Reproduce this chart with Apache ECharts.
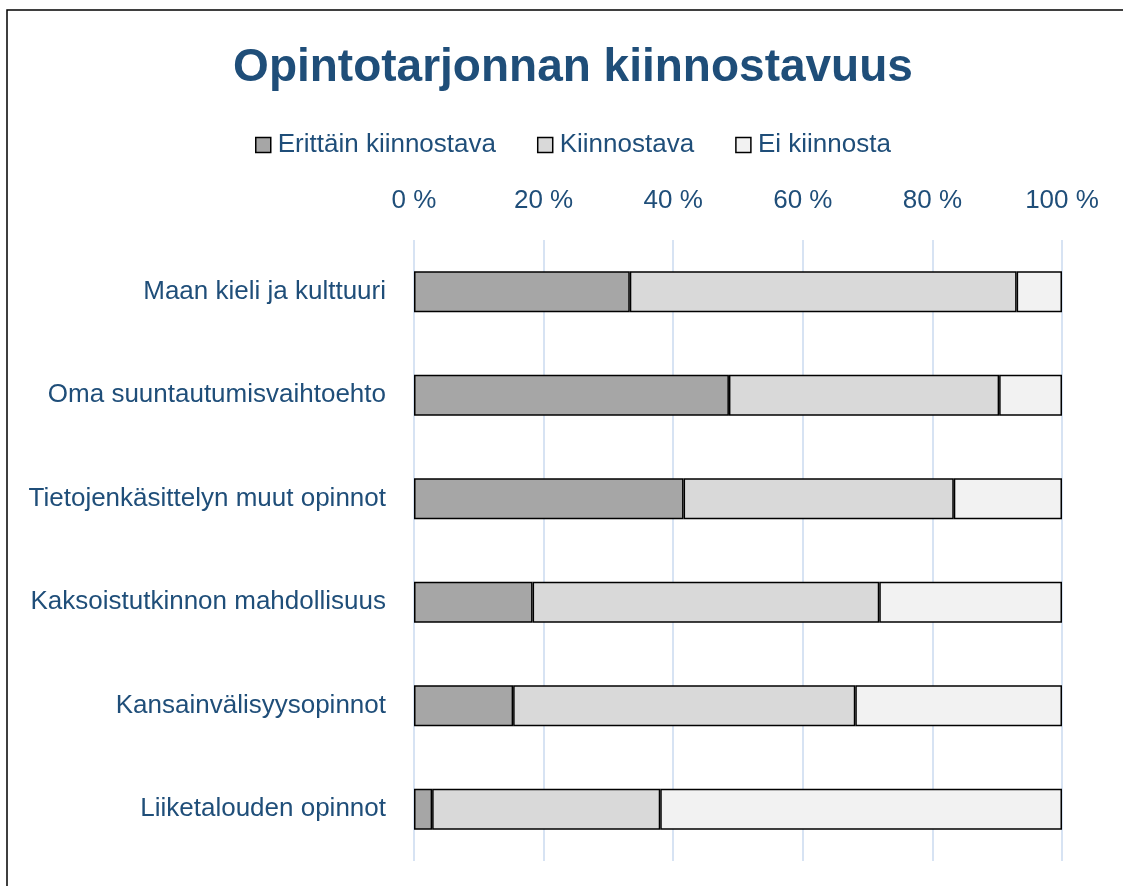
<!DOCTYPE html>
<html>
<head>
<meta charset="utf-8">
<script src="https://cdn.jsdelivr.net/npm/echarts@6/dist/echarts.min.js"></script>
<style>
  html, body { margin: 0; padding: 0; background: #fff; }
  #main { width: 1123px; height: 886px; }
</style>
</head>
<body>
<div id="main"></div>
<script>
// kategoriat ylhäältä alas
const categories = [
  'Maan kieli ja kulttuuri',
  'Oma suuntautumisvaihtoehto',
  'Tietojenkäsittelyn muut opinnot',
  'Kaksoistutkinnon mahdollisuus',
  'Kansainvälisyysopinnot',
  'Liiketalouden opinnot'
];
const seriesNames = ['Erittäin kiinnostava', 'Kiinnostava', 'Ei kiinnosta'];
const veryInterested = [33.3, 48.6, 41.6, 18.3, 15.3, 2.8];
const interested = [59.7, 41.7, 41.7, 53.5, 52.8, 35.2];
const notInterested = [7.0, 9.7, 16.7, 28.2, 31.9, 62.0];
const tickValues = [0, 20, 40, 60, 80, 100];

const textBlue = '#1f4e79';
const font = '"Liberation Sans Narrow", "Liberation Sans", Arial, sans-serif';
const colors = ['#a6a6a6', '#d9d9d9', '#f2f2f2'];

const chart = echarts.init(document.getElementById('main'));

const mkSeries = (name, data, i) => ({
  name: name,
  type: 'bar',
  stack: 'total',
  barWidth: 41,
  data: data,
  itemStyle: {
    color: colors[i],
    borderColor: '#000',
    borderWidth: 1.5
  }
});

chart.setOption({
  backgroundColor: '#fff',
  animation: false,
  title: {
    text: 'Opintotarjonnan kiinnostavuus',
    left: 568,
    top: 40,
    textAlign: 'center',
    textStyle: { color: textBlue, fontFamily: font, fontWeight: 'bold', fontSize: 46 }
  },
  legend: {
    data: seriesNames,
    top: 127,
    left: 250,
    itemWidth: 15,
    itemHeight: 15,
    itemGap: 41,
    icon: 'rect',
    itemStyle: { borderColor: '#000', borderWidth: 1.5 },
    textStyle: { color: textBlue, fontFamily: font, fontSize: 26, padding: [0, 0, 0, 2] }
  },
  grid: { left: 414, right: 61, top: 240, bottom: 25 },
  xAxis: {
    type: 'value',
    position: 'top',
    min: tickValues[0],
    max: tickValues[tickValues.length - 1],
    interval: 20,
    axisLine: { show: false },
    axisTick: { show: false },
    splitLine: { lineStyle: { color: '#d7e3f3', width: 2 } },
    axisLabel: {
      color: textBlue, fontFamily: font, fontSize: 26, margin: 26,
      formatter: v => v + ' %'
    }
  },
  yAxis: {
    type: 'category',
    inverse: true,
    data: categories,
    axisLine: { show: false },
    axisTick: { show: false },
    axisLabel: { color: textBlue, fontFamily: font, fontSize: 26, margin: 28 }
  },
  series: [
    mkSeries(seriesNames[0], veryInterested, 0),
    mkSeries(seriesNames[1], interested, 1),
    mkSeries(seriesNames[2], notInterested, 2)
  ],
  graphic: [{
    type: 'rect',
    shape: { x: 7, y: 10, width: 1140, height: 900 },
    style: { fill: 'none', stroke: '#000', lineWidth: 1.5 },
    silent: true
  }]
});
</script>
</body>
</html>
